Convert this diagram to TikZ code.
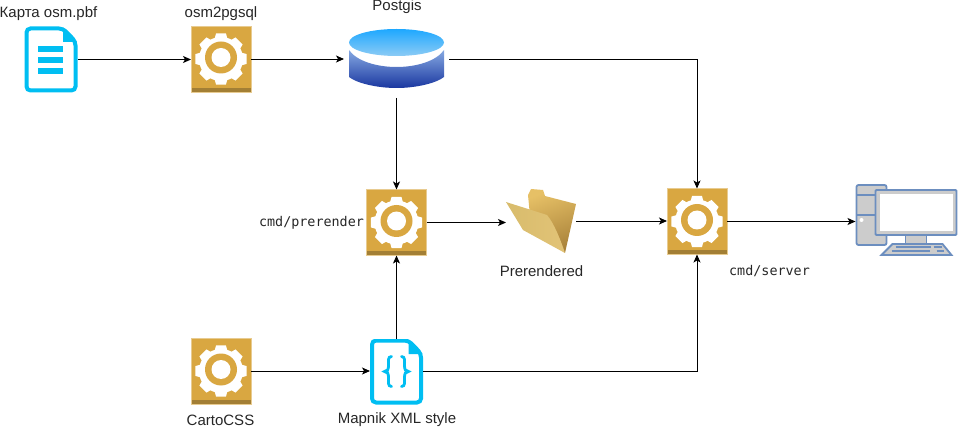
\documentclass[tikz,border=0pt]{standalone}
\usepackage{fontspec}
\setmainfont{Liberation Sans}
\setmonofont{DejaVu Sans Mono}
\usepackage{xcolor}
\usetikzlibrary{arrows.meta}
\definecolor{gearfill}{HTML}{D9A741}
\definecolor{gearedge}{HTML}{E8CB90}
\definecolor{gearband}{HTML}{A37F35}
\definecolor{docblue}{HTML}{00BEF2}
\definecolor{pcline}{HTML}{6C8EBF}
\definecolor{pcfill}{HTML}{CCCCCC}
\definecolor{dbtop}{HTML}{1EA8FF}
\definecolor{dbtoplow}{HTML}{8CCBF5}
\definecolor{dbside}{HTML}{86A9E2}
\definecolor{dbsidelow}{HTML}{1A37A0}
\definecolor{folderback}{HTML}{E6C066}
\definecolor{folderbacklow}{HTML}{A9823A}
\definecolor{folderfront}{HTML}{D8BC6C}
\definecolor{folderfrontlow}{HTML}{E2C377}
\newcommand{\gearicon}{
\begin{scope}[shift={(path picture bounding box.center)}]
\fill[gearband] (-30,29) rectangle (30,33);
\begin{scope}[shift={(0,-1.5)},yscale=1.08]
\fill[white] (0,0) circle[radius=22];
\foreach \a in {0,45,...,315}
\fill[white] (\a-20:20) -- (\a-11:26) -- (\a+11:26) -- (\a+20:20) -- cycle;
\end{scope}
\fill[gearfill] (0,-1.5) circle[radius=16];
\fill[white] (0,-1.5) circle[radius=9.5];
\end{scope}}
\newcommand{\docicon}{
\draw[docblue,line width=4pt,rounded corners=4pt,fill=white] (-24.5,-31) -- (12,-31) -- (24.5,-18) -- (24.5,31) -- (-24.5,31) -- cycle;
\fill[docblue] (12,-32) -- (12,-17.5) -- (26,-17.5) -- cycle;}
\tikzset{
gearbox/.style={draw=gearedge,fill=gearfill,line width=0.8pt,inner sep=0pt,outer sep=0pt,minimum width=60pt,minimum height=66pt,path picture={\gearicon}},
iconbox/.style={inner sep=0pt,outer sep=0pt,minimum width=#1},
filedoc/.style={inner sep=0pt,outer sep=0pt,minimum width=54pt,minimum height=67pt},
lbl/.style={inner sep=0pt,font=\fontsize{15}{16}\selectfont,text=black!85},
monolbl/.style={inner sep=0pt,font=\fontsize{13.4}{16}\selectfont\ttfamily,text=black!85},
link/.style={-{Stealth[length=8pt,width=7pt,inset=2pt]},line width=0.9pt,black}
}
\begin{document}
\begin{tikzpicture}[x=1pt,y=-1pt]
\useasboundingbox (0,0) rectangle (958,430);

% icons
\node[filedoc,path picture={\begin{scope}[shift={(path picture bounding box.center)}]
\docicon
\fill[docblue] (-13,-13) rectangle (12,-7);
\fill[docblue] (-13,-2) rectangle (12,4);
\fill[docblue] (-13,9) rectangle (12,15);
\end{scope}}] (mapfile) at (51,59.5) {};
\node[gearbox] (osmimport) at (221,59) {};
\node[iconbox=105pt,minimum height=78pt,path picture={\begin{scope}[shift={(path picture bounding box.center)}]
\shade[top color=dbside,bottom color=dbsidelow] (-47.5,-9) .. controls (-40,2) and (-20,8) .. (0,8) .. controls (20,8) and (40,2) .. (47.5,-9) -- (47.5,18) .. controls (40,24) and (20,29) .. (0,29) .. controls (-20,29) and (-40,24) .. (-47.5,18) -- cycle;
\shade[top color=dbtop,bottom color=dbtoplow] (0,-16.5) ellipse[x radius=47.5,y radius=13.5];
\end{scope}}] (postgis) at (396.5,59) {};

\node[gearbox] (prerender) at (396.5,222.5) {};
\node[iconbox=70pt,minimum height=66pt,path picture={\begin{scope}[shift={(path picture bounding box.center)}]
\shade[top color=folderback,bottom color=folderbacklow,shading angle=20] (-13,-26) -- (-10,-32) -- (2,-31) -- (4,-25) -- (35,-17) -- (24,32) -- (-10,5) -- cycle;
\shade[left color=folderfront,right color=folderfrontlow] (-35,-19) -- (6,-6) .. controls (13,2) and (20,20) .. (24,32) -- (-18,9) -- cycle;
\end{scope}}] (prerendered) at (541,221) {};
\node[gearbox] (tileserver) at (697,221.5) {};
\node[iconbox=102pt,minimum height=72pt,path picture={\begin{scope}[shift={(path picture bounding box.center)}]
\draw[pcline,fill=pcfill,line width=1.8pt,rounded corners=2pt] (-50,-35) rectangle (-20,25);
\draw[pcline,line width=1.8pt] (-50,-25) -- (-20,-25) (-50,-5) -- (-20,-5);
\fill[white] (-45,0) circle[radius=2];
\draw[pcline,fill=pcfill,line width=1.8pt,rounded corners=1pt] (-31,-30) rectangle (50,15);
\fill[white] (-27,-26) rectangle (46,11);
\draw[pcline,fill=pcfill,line width=1.8pt] (-1,15) rectangle (20,24);
\draw[pcline,fill=pcfill,line width=1.8pt] (-25,35) -- (-14,24) -- (36,24) -- (45,35) -- cycle;
\draw[pcline,line width=1.6pt] (-11,27) -- (24,27) (27,27) -- (35,27) (-15,31) -- (23,31) (-2,34.5) -- (16,34.5) (30,31) -- (37,31);
\end{scope}}] (desktop) at (906.5,220) {};

\node[gearbox] (cartocss) at (221,371) {};
\node[filedoc,minimum width=53pt,minimum height=65pt,path picture={\begin{scope}[shift={(path picture bounding box.center)}]
\docicon
\draw[docblue,line width=2.8pt,line cap=round] (-5,-15) .. controls (-9,-15) and (-8,-10) .. (-8,-6) .. controls (-8,-2) and (-9,0) .. (-12,0) .. controls (-9,0) and (-8,2) .. (-8,6) .. controls (-8,10) and (-9,15) .. (-5,15);
\draw[docblue,line width=2.8pt,line cap=round] (5,-15) .. controls (9,-15) and (8,-10) .. (8,-6) .. controls (8,-2) and (9,0) .. (12,0) .. controls (9,0) and (8,2) .. (8,6) .. controls (8,10) and (9,15) .. (5,15);
\end{scope}}] (xmlstyle) at (396.5,371.5) {};

% labels
\node[lbl] (mapfilelabel) at (48.5,14) {Карта osm.pbf};
\node[lbl] (osmimportlabel) at (221,14) {osm2pgsql};
\node[lbl] (postgislabel) at (397,7) {Postgis};
\node[monolbl] (prerenderlabel) at (311.5,223) {cmd/prerender};
\node[lbl] (prerenderedlabel) at (541.5,271) {Prerendered};
\node[monolbl] (tileserverlabel) at (769.5,271) {cmd/server};
\node[lbl] (cartocsslabel) at (220.5,420) {CartoCSS};
\node[lbl] (xmlstylelabel) at (397,420) {Mapnik XML style};

% links
\draw[link] (mapfile.east) -- (mapfile.east -| osmimport.west);
\draw[link] (osmimport.east) -- (postgis.west);
\draw[link] (postgis.east) -| (tileserver.north);
\draw[link] (postgis.south) -- (prerender.north);
\draw[link] (prerender.east) -- (prerender.east -| prerendered.west);
\draw[link] (prerendered.east) -- (prerendered.east -| tileserver.west);
\draw[link] (tileserver.east) -- (tileserver.east -| desktop.west);
\draw[link] (cartocss.east) -- (cartocss.east -| xmlstyle.west);
\draw[link] (xmlstyle.north) -- (prerender.south);
\draw[link] (xmlstyle.east) -| (tileserver.south);
\end{tikzpicture}
\end{document}
